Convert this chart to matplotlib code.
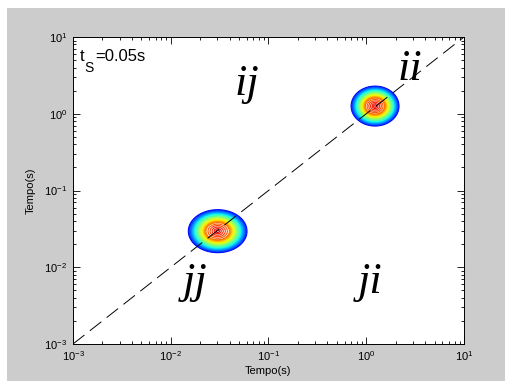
import numpy as np
import matplotlib
matplotlib.use("Agg")
import matplotlib.pyplot as plt
from matplotlib.patches import Rectangle

plt.rcParams['font.family'] = ['Liberation Sans', 'DejaVu Sans']
plt.rcParams['mathtext.fontset'] = 'custom'
plt.rcParams['mathtext.rm'] = 'Liberation Sans'
plt.rcParams['mathtext.it'] = 'Liberation Sans:italic'

# blob centres (log10 seconds) and half-widths (decades)
blob_x = [0.09, -1.52]
blob_y = [0.10, -1.53]
blob_sx = [0.245, 0.30]
blob_sy = [0.26, 0.28]

region_labels = ['ij', 'ii', 'jj', 'ji']
label_x = [0.060, 2.81, 0.0177, 1.09]
label_y = [1.75, 2.75, 0.00463, 0.00463]

# contour levels (fraction of radius from the edge), dense outside, sparse in the core
ring_r = list(np.linspace(1.0, 0.4, 25)) + [0.33, 0.26, 0.19, 0.12, 0.06]
levels = sorted(1 - r for r in ring_r)
colors = [plt.cm.jet(c) for c in np.linspace(0.12, 0.93, len(levels))]

fig = plt.figure(figsize=(5.06, 3.81), dpi=100, facecolor='white')
fig.patches.append(Rectangle((7 / 506, 0), 1, 1 - 8 / 381, transform=fig.transFigure,
                             facecolor='#cccccc', edgecolor='none', zorder=-10))
ax = fig.add_axes([73 / 506, 1 - 344 / 381, 391 / 506, 307 / 381])

lx = np.linspace(-3, 1, 600)
ly = np.linspace(-3, 1, 600)
LX, LY = np.meshgrid(lx, ly)
X, Y = 10 ** LX, 10 ** LY
for cx, cy, sx, sy in zip(blob_x, blob_y, blob_sx, blob_sy):
    r = np.sqrt(((LX - cx) / sx) ** 2 + ((LY - cy) / sy) ** 2)
    Z = 1 - r
    ax.contour(X, Y, Z, levels=levels, colors=colors, linewidths=0.8)

ax.plot([1e-3, 10], [1e-3, 10], color='black', lw=0.7, linestyle=(0, (15, 7)))

for t, x, y in zip(region_labels, label_x, label_y):
    ax.text(x, y, t, fontsize=32, family='Liberation Serif', style='italic',
            ha='center', va='baseline')

ax.text(0.0179, 0.9218, 't', transform=ax.transAxes, fontsize=12, ha='left', va='baseline')
ax.text(0.0300, 0.886, 'S', transform=ax.transAxes, fontsize=10, ha='left', va='baseline')
ax.text(0.0575, 0.9218, '=0.05s', transform=ax.transAxes, fontsize=12, ha='left', va='baseline')

ax.set_xscale('log')
ax.set_yscale('log')
ax.set_xlim(1e-3, 10)
ax.set_ylim(1e-3, 10)
ax.set_xticks([1e-3, 1e-2, 1e-1, 1, 10])
ax.set_yticks([1e-3, 1e-2, 1e-1, 1, 10])
ax.tick_params(which='both', direction='in', top=True, right=True, labelsize=8, width=0.6)
ax.tick_params(which='major', length=5, pad=4)
ax.tick_params(which='minor', length=2.5)
for s in ax.spines.values():
    s.set_linewidth(0.7)
ax.set_xlabel('Tempo(s)', fontsize=8, labelpad=2)
ax.set_ylabel('Tempo(s)', fontsize=8, labelpad=6)

fig.savefig('out.png', dpi=100, facecolor=fig.get_facecolor())
